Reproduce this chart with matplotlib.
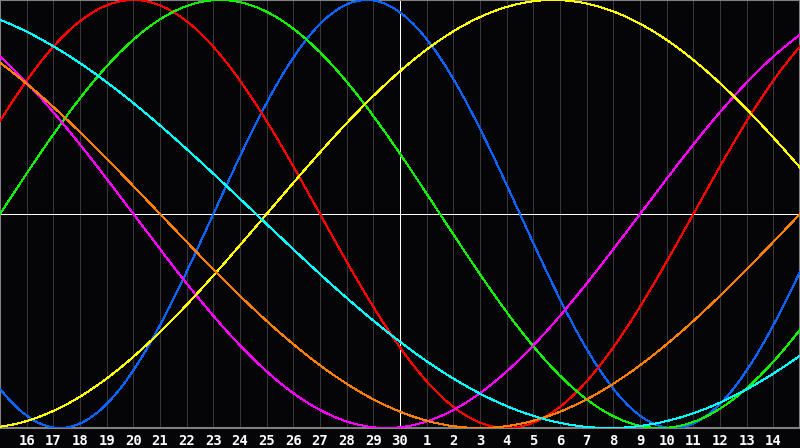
import numpy as np
import matplotlib
matplotlib.use("Agg")
import matplotlib.pyplot as plt

# biorhythm cycles: period (days) and day index where each curve crosses zero going up
cycle_names = ["physical", "emotional", "intellectual", "intuitive", "aesthetic", "awareness", "spiritual"]
cycle_periods = [23, 28, 33, 38, 43, 48, 53]
cycle_zero_up = [8.0, 26.0, 0.0, 24.0, 10.0, 30.0, 36.1]
cycle_colors = ["#0a64ff", "#ff0000", "#10f000", "#ff00ff", "#ffff00", "#ff8000", "#00ffff"]

# x axis: day slots, left edge is the 15th of the previous month
day_labels = ["16", "17", "18", "19", "20", "21", "22", "23", "24", "25", "26", "27", "28", "29", "30",
              "1", "2", "3", "4", "5", "6", "7", "8", "9", "10", "11", "12", "13", "14"]
n_days = 30
today = 15

bg = "#050508"
px = 72 / 100  # one pixel in points
fig = plt.figure(figsize=(8, 4.48), dpi=100, facecolor=bg)
ax = fig.add_axes([0, 20 / 448, 1, 428 / 448])
ax.set_facecolor(bg)
ax.set_xlim(0, n_days)
ax.set_ylim(-1, 1)

ticks = list(range(1, len(day_labels) + 1))
for t in ticks:
    ax.axvline(t, color="#383838", lw=px, antialiased=False, zorder=1)

ax.axhline(0, color="white", lw=px, antialiased=False, zorder=2)
ax.axvline(today, color="white", lw=px, antialiased=False, zorder=2)

t = np.linspace(0, n_days, 1601)
for name, p, z, c in zip(cycle_names, cycle_periods, cycle_zero_up, cycle_colors):
    ax.plot(t, np.sin(2 * np.pi * (t - z) / p), color=c, lw=px, antialiased=False, zorder=3, label=name)

ax.set_xticks(ticks)
ax.set_xticklabels(day_labels, color="white", fontsize=10, fontweight="bold", family="DejaVu Sans Mono")
ax.tick_params(axis="x", length=0, pad=4)
ax.set_yticks([])

for s in ax.spines.values():
    s.set_color("#808080")
    s.set_linewidth(1.5)

fig.savefig("out.png", dpi=100, facecolor=bg)
